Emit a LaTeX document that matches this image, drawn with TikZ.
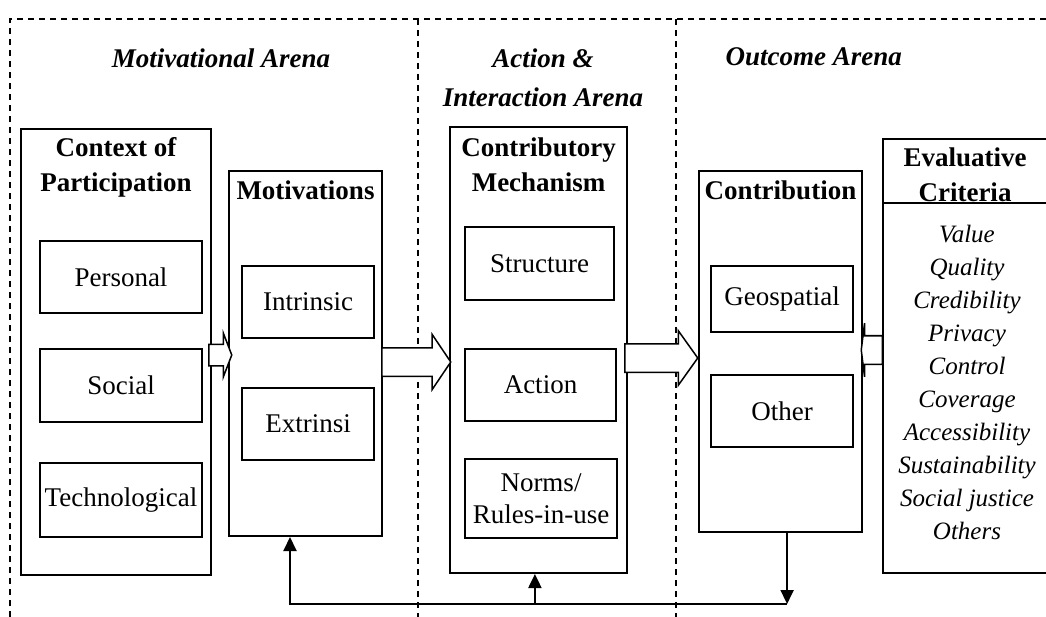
\documentclass[tikz,border=0pt]{standalone}
\usepackage{fontspec}
\setmainfont{Liberation Serif}
\usepackage{tikz}
\usetikzlibrary{arrows.meta,calc,shapes.arrows}
\tikzstyle{outer}=[rectangle,draw=black,line width=2pt]
\tikzstyle{inner}=[rectangle,draw=black,line width=1.5pt,align=center,font=\fontsize{27}{32}\selectfont]
\tikzstyle{heading}=[align=center,font=\fontsize{27}{35}\selectfont\bfseries]
\tikzstyle{arena}=[align=center,font=\fontsize{27}{39}\selectfont\bfseries\itshape]
\tikzstyle{block}=[single arrow,draw=black,fill=white,line width=1.5pt,inner xsep=0pt,single arrow head indent=0pt,anchor=tail]
\tikzstyle{frame}=[line width=1.2pt,dash pattern=on 6pt off 5pt]
\tikzstyle{feedback}=[line width=2pt,-{Triangle[length=14pt,width=13pt]}]

\begin{document}
\begin{tikzpicture}[x=1pt,y=-1pt]
        \useasboundingbox (0,0) rectangle (1046,617);

        % arenas
        \draw [frame] (10,617) -- (10,19) -- (1046,19);
        \draw [frame] (418,19) -- (418,617);
        \draw [frame] (676,19) -- (676,617);
        \node at (221,58) [arena] (motarena) {Motivational Arena};
        \node at (543,77.5) [arena] (actarena) {Action \&\\Interaction Arena};
        \node at (722,57) [arena,anchor=west] (outarena) {Outcome Arena};

        % context of participation
        \node at (116,352) [outer,minimum width=190pt,minimum height=446pt] (ctx) {};
        \node at (116,167) [heading] (ctxtitle) {Context of\\Participation};
        \node at (121,277) [inner,minimum width=162pt,minimum height=72pt] (personal) {Personal};
        \node at (121,385.5) [inner,minimum width=162pt,minimum height=73pt] (social) {Social};
        \node at (121,500) [inner,minimum width=162pt,minimum height=74pt] (techno) {Technological};

        % motivations
        \node at (305.5,353.5) [outer,minimum width=153pt,minimum height=365pt] (motiv) {};
        \node at (305.5,190) [heading] (motivtitle) {Motivations};
        \node at (308,302) [inner,minimum width=132pt,minimum height=72pt] (intrinsic) {Intrinsic};
        \node at (308,424) [inner,minimum width=132pt,minimum height=72pt] (extrinsic) {Extrinsi};

        % contributory mechanism
        \node at (538.5,350) [outer,minimum width=177pt,minimum height=446pt] (mech) {};
        \node at (538.5,164.5) [heading] (mechtitle) {Contributory\\Mechanism};
        \node at (539.5,263.5) [inner,minimum width=149pt,minimum height=73pt] (structure) {Structure};
        \node at (540.5,385) [inner,minimum width=151pt,minimum height=72pt] (action) {Action};
        \node at (541,498.5) [inner,minimum width=152pt,minimum height=79pt] (norms) {Norms/\\Rules-in-use};

        % contribution
        \node at (780.5,351.5) [outer,minimum width=163pt,minimum height=361pt] (contrib) {};
        \node at (780.5,190) [heading] (contribtitle) {Contribution};
        \node at (782,299) [inner,minimum width=142pt,minimum height=66pt] (geo) {Geospatial};
        \node at (782,411) [inner,minimum width=142pt,minimum height=72pt] (other) {Other};

        % evaluative criteria
        \node at (971.5,356) [outer,minimum width=177pt,minimum height=434pt] (evalbox) {};
        \node at (965,174.5) [heading] (evaltitle) {Evaluative\\Criteria};
        \coordinate (evalsep) at (0,203);
        \draw [line width=2pt] (evalbox.west |- evalsep) -- (evalbox.east |- evalsep);
        \node at (967,382) [align=center,font=\fontsize{25}{33}\selectfont\itshape] (criteria)
          {Value\\Quality\\Credibility\\Privacy\\Control\\Coverage\\Accessibility\\Sustainability\\Social justice\\Others};

        % block arrows
        \node at (208,355) [block,minimum height=23pt,inner ysep=10pt,single arrow head extend=11pt,single arrow tip angle=138] (arrctx) {};
        \node at (381,362) [block,minimum height=69pt,inner ysep=13.5pt,single arrow head extend=13.5pt,single arrow tip angle=112] (arrmotiv) {};
        \node at (624,358) [block,minimum height=73pt,inner ysep=13.5pt,single arrow head extend=13pt,single arrow tip angle=109] (arrmech) {};
        \node at (883,350) [block,shape border rotate=180,minimum height=21pt,inner ysep=13.5pt,single arrow head extend=12.5pt,single arrow tip angle=166] (arreval) {};

        % feedback
        \coordinate (fbline) at (0,604);
        \coordinate (fbcontrib) at ($(contrib.south west)!0.54!(contrib.south east)$);
        \coordinate (fbmotiv) at ($(motiv.south west)!0.40!(motiv.south east)$);
        \coordinate (fbmech) at ($(mech.south west)!0.48!(mech.south east)$);
        \draw [feedback] (fbcontrib) -- (fbcontrib |- fbline);
        \draw [feedback] (fbcontrib |- fbline) -- (fbmotiv |- fbline) -- (fbmotiv);
        \draw [feedback] (fbmech |- fbline) -- (fbmech);
      \end{tikzpicture}
\end{document}
